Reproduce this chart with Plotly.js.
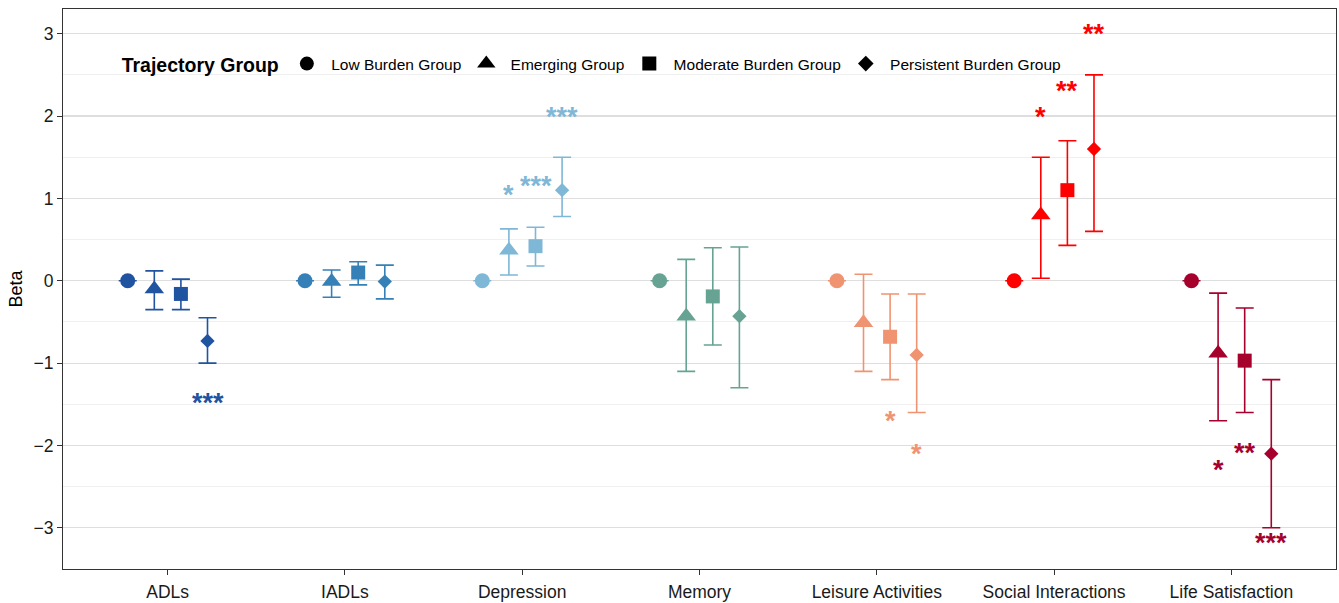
<!DOCTYPE html>
<html>
<head>
<meta charset="utf-8">
<script src="https://cdn.plot.ly/plotly-3.0.1.min.js"></script>
<style>html,body{margin:0;padding:0;background:#fff;}#chart{width:1339px;height:603px;}</style>
</head>
<body>
<div id="chart"></div>
<script>
const categories = ['ADLs','IADLs','Depression','Memory','Leisure Activities','Social Interactions','Life Satisfaction'];
const groups = ['Low Burden Group','Emerging Group','Moderate Burden Group','Persistent Burden Group'];
const categoryColors = ['#2053A0','#3680B8','#7FB7D7','#67A393','#F09371','#FF0000','#A6002C'];

const lowBeta = [0,0,0,0,0,0,0];
const emergingBeta = [-0.10,-0.01,0.37,-0.43,-0.51,0.80,-0.88];
const emergingLo   = [-0.35,-0.20,0.07,-1.10,-1.10,0.03,-1.70];
const emergingHi   = [0.12,0.13,0.63,0.26,0.08,1.50,-0.15];
const moderateBeta = [-0.16,0.10,0.42,-0.19,-0.68,1.10,-0.97];
const moderateLo   = [-0.35,-0.05,0.18,-0.78,-1.20,0.43,-1.60];
const moderateHi   = [0.02,0.23,0.65,0.40,-0.16,1.70,-0.33];
const persistentBeta = [-0.73,-0.01,1.10,-0.43,-0.90,1.60,-2.10];
const persistentLo   = [-1.00,-0.22,0.78,-1.30,-1.60,0.60,-3.00];
const persistentHi   = [-0.45,0.19,1.50,0.41,-0.16,2.50,-1.20];

const emergingSig   = ['','','*','','','*','*'];
const emergingSigY  = [null,null,1.10,null,null,2.05,-2.24];
const moderateSig   = ['','','***','','*','**','**'];
const moderateSigY  = [null,null,1.21,null,-1.64,2.36,-2.03];
const persistentSig = ['***','','***','','*','**','***'];
const persistentSigY= [-1.42,null,2.05,null,-2.04,3.06,-3.12];

const symbols = ['circle','triangle-up','square','diamond'];
const sizes = [15,17,14,11];
const offsets = [-0.225,-0.075,0.075,0.225];

const betas = [lowBeta, emergingBeta, moderateBeta, persistentBeta];
const los = [null, emergingLo, moderateLo, persistentLo];
const his = [null, emergingHi, moderateHi, persistentHi];
const sigs = [null, emergingSig, moderateSig, persistentSig];
const sigYs = [null, emergingSigY, moderateSigY, persistentSigY];

const traces = [];
const annotations = [];
categories.forEach((cat, ci) => {
  const xs = [], ys = [], up = [], dn = [];
  for (let g = 0; g < 4; g++) {
    xs.push(ci + offsets[g]);
    ys.push(betas[g][ci]);
    if (g === 0) { up.push(null); dn.push(null); }
    else { up.push(his[g][ci] - betas[g][ci]); dn.push(betas[g][ci] - los[g][ci]); }
    if (g > 0 && sigs[g][ci]) {
      annotations.push({
        x: ci + offsets[g], y: sigYs[g][ci], xref: 'x', yref: 'y',
        text: '<b>' + sigs[g][ci] + '</b>', showarrow: false, yshift: -5,
        font: {family: 'Liberation Sans, Arial, sans-serif', size: 27, color: categoryColors[ci]}
      });
    }
  }
  traces.push({
    type: 'scatter', mode: 'markers', x: xs, y: ys, showlegend: false, hoverinfo: 'skip',
    marker: {symbol: symbols, size: sizes, color: categoryColors[ci], opacity: 1, line: {width: 0}},
    error_y: {type: 'data', symmetric: false, array: up, arrayminus: dn, color: categoryColors[ci], thickness: 1.6, width: 9}
  });
});
groups.forEach((g, gi) => {
  traces.push({
    type: 'scatter', mode: 'markers', x: [null], y: [null], name: '\u00a0' + g, showlegend: true,
    marker: {symbol: symbols[gi], size: [14,16,14,12][gi], color: '#000', opacity: 1}
  });
});

const layout = {
  width: 1339, height: 603,
  margin: {l: 63, r: 3, t: 9, b: 34},
  paper_bgcolor: '#fff', plot_bgcolor: '#fff',
  font: {family: 'Liberation Sans, Arial, sans-serif', color: '#000'},
  xaxis: {
    range: [-0.59, 6.59], tickvals: [0,1,2,3,4,5,6], ticktext: categories,
    showgrid: false, zeroline: false, showline: true, mirror: true, linecolor: '#333', linewidth: 1,
    ticks: 'outside', ticklen: 5, tickcolor: '#333', tickfont: {size: 17.5, color: '#1a1a1a'},
    ticklabelstandoff: 2
  },
  yaxis: {
    range: [-3.5, 3.3], tickvals: [-3,-2,-1,0,1,2,3],
    showgrid: true, gridcolor: '#dedede', gridwidth: 1.2, zeroline: false,
    showline: true, mirror: true, linecolor: '#333', linewidth: 1,
    ticks: 'outside', ticklen: 5, tickcolor: '#333', tickfont: {size: 17.5, color: '#1a1a1a'},
    title: {text: 'Beta', font: {size: 18}, standoff: 6},
    minor: {dtick: 0.5, tick0: 0.5, showgrid: true, gridcolor: '#efefef', gridwidth: 1, ticks: ''}
  },
  legend: {
    orientation: 'h', x: 0.0445, y: 0.9, xanchor: 'left', yanchor: 'middle',
    bgcolor: 'rgba(0,0,0,0)', font: {size: 15.5},
    title: {text: '<b>Trajectory Group</b>', font: {size: 19.5}, side: 'left'},
    itemclick: false
  },
  annotations: annotations
};

Plotly.newPlot('chart', traces, layout, {displayModeBar: false, staticPlot: true});
</script>
</body>
</html>
